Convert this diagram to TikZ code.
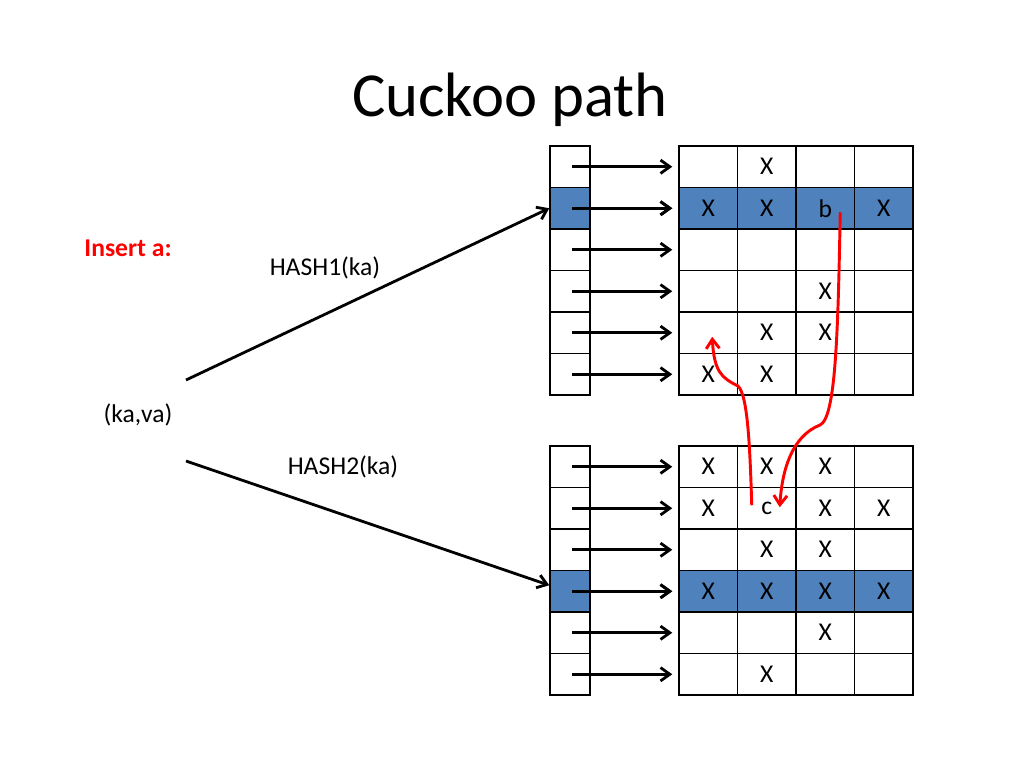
\documentclass[tikz,border=0pt]{standalone}
\usepackage{fontspec}
\setmainfont{Carlito}
\usepackage{tikz}
\usetikzlibrary{arrows.meta, positioning, calc}
\definecolor{rowblue}{RGB}{79,129,189}
\definecolor{pathred}{RGB}{255,0,0}

\begin{document}
\begin{tikzpicture}[
    x=0.75pt, y=-0.75pt,
    cell/.style={rectangle, draw=black, line width=1.1pt, minimum width=43.9pt, minimum height=31.1pt, inner sep=0pt, font=\fontsize{19.2}{23}\selectfont},
    slot/.style={cell, minimum width=30pt},
    plain/.style={},
    hot/.style={fill=rowblue},
    arrow/.style={-{Straight Barb[length=7pt,width=10pt]}, line width=2.1pt},
    cuckoo/.style={-{Straight Barb[length=7pt,width=10pt]}, line width=2.2pt, color=pathred},
    label/.style={font=\fontsize{19.2}{23}\selectfont}
]
\useasboundingbox (0,0) rectangle (1024,768);

\node[font=\fontsize{47}{56}\selectfont] (title) at (510,100) {Cuckoo path};

% first table
\foreach \r/\s/\cells in {1/plain/{ ,X, , },2/hot/{X,X,b,X},3/plain/{ , , , },4/plain/{ , ,X, },5/plain/{ ,X,X, },6/plain/{X,X, , }} {
  \node[slot,\s] (a\r) at (570,{146+41.5*\r-20.75}) {};
  \foreach \v [count=\c] in \cells
    \node[cell,\s] (t1-\r-\c) at ({679+58.5*\c-29.25},{146+41.5*\r-20.75}) {\v};
  \draw[arrow] ($(a\r.center)+(2,0)$) -- ($(t1-\r-1.west)+(-6,0)$);
}

% second table
\foreach \r/\s/\cells in {1/plain/{X,X,X, },2/plain/{X,c,X,X},3/plain/{ ,X,X, },4/hot/{X,X,X,X},5/plain/{ , ,X, },6/plain/{ ,X, , }} {
  \node[slot,\s] (b\r) at (570,{446+41.5*\r-20.75}) {};
  \foreach \v [count=\c] in \cells
    \node[cell,\s] (t2-\r-\c) at ({679+58.5*\c-29.25},{446+41.5*\r-20.75}) {\v};
  \draw[arrow] ($(b\r.center)+(2,0)$) -- ($(t2-\r-1.west)+(-6,0)$);
}
% redraw the arrows over the blue rows
\draw[arrow] ($(a2.center)+(2,0)$) -- ($(t1-2-1.west)+(-6,0)$);
\draw[arrow] ($(b4.center)+(2,0)$) -- ($(t2-4-1.west)+(-6,0)$);

\node[label, font=\fontsize{19.2}{23}\selectfont\bfseries, text=pathred] (insert) at (128,248) {Insert a:};
\node[label] (kv) at (138,415) {(ka,va)};
\node[label] (hash1) at (325,268) {HASH1(ka)};
\node[label] (hash2) at (343,467) {HASH2(ka)};

\coordinate (h1) at (186,380);
\coordinate (h2) at (186,461);
\draw[arrow] (h1) -- (a2.west);
\draw[arrow] (h2) -- ($(b4.west)+(0,-6)$);

% cuckoo moves
\draw[cuckoo] ($(t1-2-3.center)+(15,4)$) .. controls (838,330) and (836,418) .. (820,425)
  .. controls (792,436) and (782,470) .. ($(t2-2-2.center)+(13,-1)$);
\draw[cuckoo] ($(t2-2-2.center)+(-15,-3)$) .. controls (750,450) and (748,395) .. (738,386)
  .. controls (722,378) and (714,372) .. ($(t1-5-1.center)+(4,4)$);
\end{tikzpicture}
\end{document}
